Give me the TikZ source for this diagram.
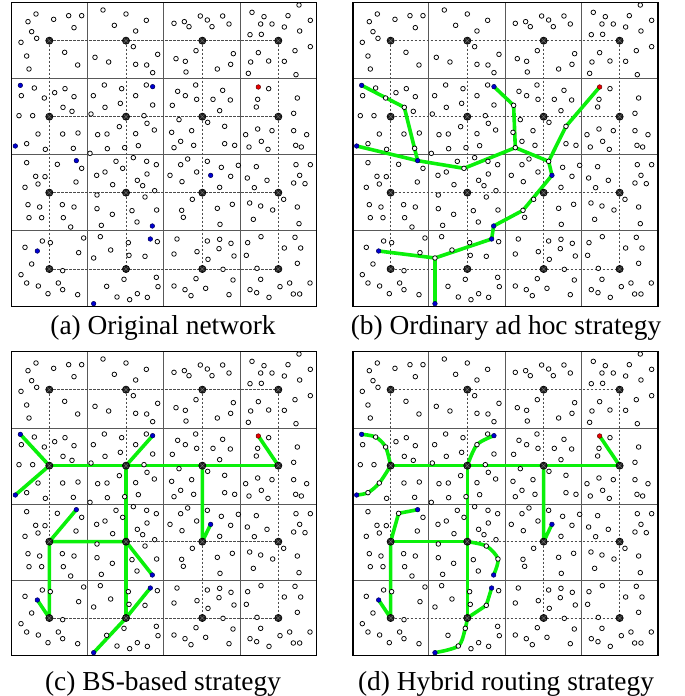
\documentclass[tikz,border=0pt]{standalone}
\usepackage{fontspec}
\setmainfont{Liberation Serif}
\pgfdeclarelayer{bg}
\pgfdeclarelayer{rt}
\pgfsetlayers{bg,rt,main}
\definecolor{routegreen}{RGB}{10,240,10}
\definecolor{nodeblue}{RGB}{0,0,210}
\definecolor{nodered}{RGB}{235,0,0}
\tikzset{
  nd/.style={circle,draw=black,fill=white,line width=0.75pt,inner sep=0pt,minimum size=4.6pt},
  bd/.style={circle,draw=black!60!nodeblue,fill=nodeblue,line width=0.5pt,inner sep=0pt,minimum size=4.6pt},
  rd/.style={circle,draw=black!60!nodered,fill=nodered,line width=0.5pt,inner sep=0pt,minimum size=4.6pt},
  bs/.style={circle,draw=black,fill=black!88,line width=0.6pt,inner sep=0pt,minimum size=7.2pt,
    path picture={\draw[black!50,line width=0.35pt]
      (path picture bounding box.south west) -- (path picture bounding box.north east)
      (path picture bounding box.north west) -- (path picture bounding box.south east);}},
  frame/.style={draw=black,line width=1.1pt},
  cellline/.style={draw=black!65,line width=1pt},
  dashline/.style={draw=black!70,line width=0.6pt,dash pattern=on 2.5pt off 1.5pt},
  route/.style={draw=routegreen,line width=3.6pt,line join=round},
  captext/.style={font=\fontsize{27.4pt}{30pt}\selectfont,inner sep=0pt,anchor=base}
}
\newcommand\netdotlist{93/42,69/65,146/58,191/47,230/47,207/83,80/95,95/115,48/127,179/157,65/168,72/207,218/195,
294/30,363/42,328/76,424/61,392/93,385/140,458/163,270/172,311/186,392/193,425/195,443/218,
507/70,538/65,552/80,586/48,607/60,621/80,653/48,672/72,573/152,685/161,513/176,541/184,543/216,637/207,677/193,
741/37,777/50,767/72,801/72,849/47,882/15,916/61,838/81,884/93,735/104,769/103,916/140,870/152,760/158,737/186,791/183,838/184,730/220,873/224,
49/287,149/278,180/266,207/290,201/334,42/347,83/347,173/402,219/399,121/448,205/445,
298/255,350/266,424/255,265/287,346/310,300/322,443/315,258/342,417/347,426/370,343/380,448/390,278/404,306/402,392/401,400/437,307/446,359/443,255/460,
572/255,518/274,541/287,653/271,575/298,624/298,676/300,644/332,522/359,608/367,560/392,500/397,527/424,566/436,659/431,689/436,
791/266,758/298,877/294,754/321,866/340,758/387,801/392,866/392,722/404,905/404,769/424,872/436,889/441,732/441,789/448,
65/488,230/505,92/529,120/530,99/552,60/562,213/546,69/614,104/621,172/614,207/621,72/653,110/653,175/653,197/681,
385/473,333/484,425/484,454/494,300/516,275/526,426/522,397/541,413/557,323/554,449/572,276/585,276/626,381/632,322/643,396/666,289/676,
548/477,527/494,649/502,700/496,495/526,575/516,677/529,531/545,644/562,562/598,682/613,637/625,535/652,645/673,
754/500,873/494,916/494,884/526,727/534,786/541,866/549,900/551,748/563,836/598,734/609,767/618,803/630,877/621,745/658,882/671,
112/723,136/728,236/714,60/742,221/758,80/792,48/824,173/812,65/849,100/858,160/849,173/869,129/881,218/884,
286/710,457/725,370/728,317/750,372/766,454/832,305/859,459/860,374/899,397/881,427/892,
516/717,607/723,644/718,678/730,576/755,642/746,507/762,687/768,609/778,654/808,573/836,684/840,507/858,540/869,602/865,558/887,672/884,
768/710,728/728,870/712,838/744,887/744,724/766,756/805,877/790,767/838,735/869,755/878,792/892,825/860,854/849,915/849,865/882,884/882}
\newcommand\netpanel[2]{%
  \foreach \r/\yy in {1/122,2/350,3/578,4/807}{%
    \foreach \c/\xx in {1/133,2/363,3/592,4/820}{%
      \node[bs] (#1s\r\c) at (\xx,\yy) {};
    }%
  }%
  \foreach \x/\y [count=\i] in \netdotlist {\node[nd] (#1d\i) at (\x,\y) {};}%
  \node[nd] (#1w1) at (174,322) {};
  \node[nd] (#1w2) at (353,505) {};
  \node[nd] (#1w3) at (507,443) {};
  \node[nd] (#1w4) at (607,484) {};
  \node[nd] (#1w5) at (659,379) {};
  \node[nd] (#1w6) at (502,316) {};
  \node[nd] (#1w7) at (530,631) {};
  \node[nd] (#1w8) at (266,774) {};
  \node[nd] (#1w9) at (88,264) {};
  \node[nd] (#1w10) at (118,294) {};
  \node[nd] (#1w11) at (65,431) {};
  \node[nd] (#1w12) at (99,402) {};
  \node[nd] (#1w13) at (392,287) {};
  \node[nd] (#1w14) at (157,493) {};
  \node[nd] (#1w15) at (420,591) {};
  \node[nd] (#1w16) at (455,630) {};
  \node[nd] (#1w17) at (420,769) {};
  \node[nd] (#1w18) at (357,838) {};
  \node[nd] (#1w19) at (336,891) {};
  \node[bd] (#1u1) at (46,256) {};
  \node[bd] (#1u2) at (31,438) {};
  \node[bd] (#1u3) at (443,260) {};
  \node[bd] (#1u4) at (214,482) {};
  \node[bd] (#1u5) at (617,526) {};
  \node[bd] (#1u6) at (442,678) {};
  \node[bd] (#1u7) at (97,753) {};
  \node[bd] (#1u8) at (436,717) {};
  \node[bd] (#1u9) at (266,911) {};
  \node[rd] (#1red) at (760,261) {};
  \begin{pgfonlayer}{bg}
    \draw[cellline] (247,8) -- (247,920) (477,8) -- (477,920) (707,8) -- (707,920)
                    (20,237) -- (935,237) (20,465) -- (935,465) (20,693) -- (935,693);
    \draw[frame] (20,8) rectangle (935,920);
    \draw[dashline] (#1s11.center) -- (#1s14.center) (#1s21.center) -- (#1s24.center)
                    (#1s31.center) -- (#1s34.center) (#1s41.center) -- (#1s44.center)
                    (#1s11.center) -- (#1s41.center) (#1s12.center) -- (#1s42.center)
                    (#1s13.center) -- (#1s43.center) (#1s14.center) -- (#1s44.center);
  \end{pgfonlayer}
  \begin{pgfonlayer}{rt}
    #2
  \end{pgfonlayer}
}
\begin{document}
\begin{tikzpicture}[x=1pt,y=-1pt]
\useasboundingbox (0,0) rectangle (685,696);
% (a)
\begin{scope}[xshift=5pt,x=0.33333pt,y=-0.33333pt]
  \netpanel{a-}{}
\end{scope}
% (b)
\begin{scope}[xshift=346.3pt,x=0.33333pt,y=-0.33333pt]
  \netpanel{b-}{%
    \draw[route] (b-u1.center) -- (b-w1.center) -- (b-u4.center);
    \draw[route] (b-u2.center) -- (b-u4.center) -- (b-w2.center) -- (b-w3.center) -- (b-w4.center) -- (b-w5.center) -- (b-red.center);
    \draw[route] (b-u3.center) -- (b-w6.center) -- (b-w3.center);
    \draw[route] (b-w4.center) -- (b-u5.center) -- (b-w7.center) -- (b-u6.center) -- (b-u8.center) -- (b-w8.center) -- (b-u7.center);
    \draw[route] (b-w8.center) -- (b-u9.center);
  }
\end{scope}
% (c)
\begin{scope}[xshift=5pt,yshift=-349pt,x=0.33333pt,y=-0.33333pt]
  \netpanel{c-}{%
    \draw[route] (c-s21.center) -- (c-s24.center);
    \draw[route] (c-u1.center) -- (c-s21.center) -- (c-u2.center);
    \draw[route] (c-u3.center) -- (c-s22.center);
    \draw[route] (c-red.center) -- (c-s24.center);
    \draw[route] (c-s22.center) -- (c-s42.center);
    \draw[route] (c-s23.center) -- (c-s33.center) -- (c-u5.center);
    \draw[route] (c-u4.center) -- (c-s31.center) -- (c-s32.center) -- (c-u6.center);
    \draw[route] (c-s31.center) -- (c-s41.center) -- (c-u7.center);
    \draw[route] (c-u8.center) -- (c-s42.center) -- (c-u9.center);
  }
\end{scope}
% (d)
\begin{scope}[xshift=346.3pt,yshift=-349pt,x=0.33333pt,y=-0.33333pt]
  \netpanel{d-}{%
    \draw[route] (d-s21.center) -- (d-s24.center);
    \draw[route] plot[smooth] coordinates {(d-u1.center) (d-w9.center) (d-w10.center) (d-s21.center)};
    \draw[route] plot[smooth] coordinates {(d-u2.center) (d-w11.center) (d-w12.center) (d-s21.center)};
    \draw[route] plot[smooth] coordinates {(d-u3.center) (d-w13.center) (d-s22.center)};
    \draw[route] (d-red.center) -- (d-s24.center);
    \draw[route] (d-s22.center) -- (d-s42.center);
    \draw[route] (d-s23.center) -- (d-s33.center) -- (d-u5.center);
    \draw[route] (d-s31.center) -- (d-s32.center);
    \draw[route] (d-u4.center) -- (d-w14.center) -- (d-s31.center) -- (d-s41.center) -- (d-u7.center);
    \draw[route] plot[smooth] coordinates {(d-s32.center) (d-w15.center) (d-w16.center) (d-u6.center)};
    \draw[route] (d-s42.center) -- (d-w17.center) -- (d-u8.center);
    \draw[route] plot[smooth] coordinates {(d-s42.center) (d-w18.center) (d-w19.center) (d-u9.center)};
  }
\end{scope}
% captions
\node[captext] (capa) at (163,334) {(a) Original network};
\node[captext] (capb) at (506,334) {(b) Ordinary ad hoc strategy};
\node[captext] (capc) at (163,690) {(c) BS-based strategy};
\node[captext] (capd) at (506,690) {(d) Hybrid routing strategy};
\end{tikzpicture}
\end{document}
